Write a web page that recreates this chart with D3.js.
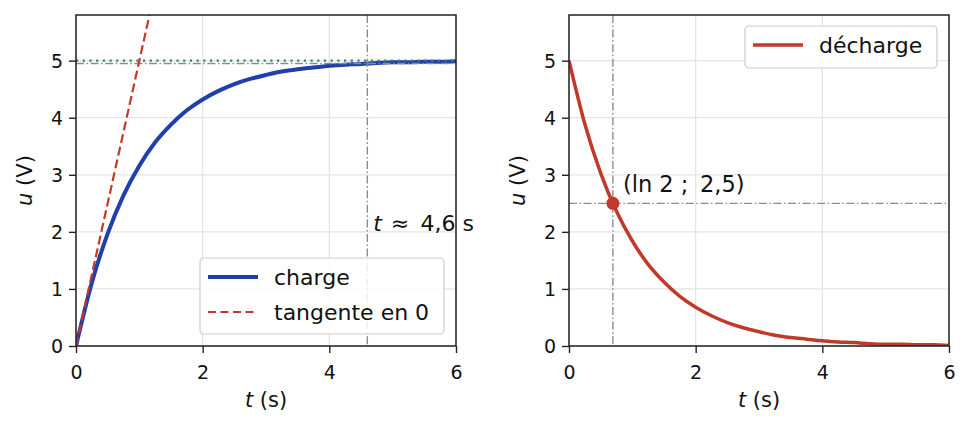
<!DOCTYPE html>
<html>
<head>
<meta charset="utf-8">
<title>Charge / décharge</title>
<script src="https://d3js.org/d3.v7.min.js"></script>
<style>
  body { margin: 0; background: #fff; }
  svg text { font-family: "DejaVu Sans", sans-serif; fill: #111; }
  .tick text { font-size: 19px; }
  .grid line { stroke: #e4e4e4; stroke-width: 1.3; }
</style>
</head>
<body>
<script>
// valeurs
var times = [0, 0.25, 0.5, 0.75, 1, 1.25, 1.5, 1.75, 2, 2.25, 2.5, 2.75, 3,
             3.25, 3.5, 3.75, 4, 4.25, 4.5, 4.75, 5, 5.25, 5.5, 5.75, 6];
var chargeU = [0, 1.11, 1.97, 2.64, 3.16, 3.57, 3.88, 4.13, 4.32, 4.47, 4.59, 4.68, 4.75,
               4.81, 4.85, 4.88, 4.91, 4.93, 4.94, 4.96, 4.97, 4.97, 4.98, 4.98, 4.99];
var dechargeU = [5, 3.89, 3.03, 2.36, 1.84, 1.43, 1.12, 0.87, 0.68, 0.53, 0.41, 0.32, 0.25,
                 0.19, 0.15, 0.12, 0.09, 0.07, 0.06, 0.04, 0.03, 0.03, 0.02, 0.02, 0.01];
var tangentT = [0, 1.2];
var tangentU = [0, 6];
var asymptote = 5;
var level99 = 4.95;
var t99 = 4.6;
var halfPoint = [0.693, 2.5];
var xTicks = [0, 2, 4, 6];
var yTicks = [0, 1, 2, 3, 4, 5];

var blue = "#1f3fad", red = "#c0392b", green = "#2e8b57", gray = "#8c8c8c";

var svg = d3.select("body").append("svg")
  .attr("width", 970).attr("height", 430);

function panel(id, left) {
  var w = 380, h = 331, top = 15;
  var x = d3.scaleLinear().domain([0, 6]).range([0, w]);
  var y = d3.scaleLinear().domain([0, 5.8]).range([h, 0]);
  var g = svg.append("g").attr("transform", "translate(" + left + "," + top + ")");

  g.append("clipPath").attr("id", id)
    .append("rect").attr("width", w).attr("height", h);

  // grille
  var grid = g.append("g").attr("class", "grid");
  grid.selectAll(".gx").data(xTicks).enter().append("line")
    .attr("x1", d => x(d)).attr("x2", d => x(d)).attr("y1", 0).attr("y2", h);
  grid.selectAll(".gy").data(yTicks).enter().append("line")
    .attr("y1", d => y(d)).attr("y2", d => y(d)).attr("x1", 0).attr("x2", w);

  var plot = g.append("g").attr("clip-path", "url(#" + id + ")");

  // axes
  var xAxis = d3.axisBottom(x).tickValues(xTicks).tickSize(7).tickPadding(6)
    .tickFormat(d3.format("d"));
  var yAxis = d3.axisLeft(y).tickValues(yTicks).tickSize(7).tickPadding(6)
    .tickFormat(d3.format("d"));
  var ax = g.append("g").attr("transform", "translate(0," + h + ")").call(xAxis);
  var ay = g.append("g").call(yAxis);
  [ax, ay].forEach(function (a) {
    a.select(".domain").remove();
    a.selectAll(".tick line").attr("stroke", "#222").attr("stroke-width", 1.4);
  });
  ax.selectAll(".tick text").attr("dy", "1.05em");
  ay.selectAll(".tick text").attr("dy", "0.36em");

  g.append("rect").attr("width", w).attr("height", h)
    .attr("fill", "none").attr("stroke", "#222").attr("stroke-width", 1.5);

  // titres d'axes
  var xl = g.append("text").attr("x", w / 2).attr("y", h + 61)
    .attr("text-anchor", "middle").style("font-size", "21px");
  xl.append("tspan").style("font-style", "italic").text("t");
  xl.append("tspan").text(" (s)");
  var yl = g.append("text")
    .attr("transform", "translate(-44," + (h / 2) + ") rotate(-90)")
    .attr("text-anchor", "middle").style("font-size", "21px");
  yl.append("tspan").style("font-style", "italic").text("u");
  yl.append("tspan").text(" (V)");

  return { g: g, plot: plot, x: x, y: y, w: w, h: h };
}

function legend(g, x0, y0, bw, items) {
  var lg = g.append("g").attr("transform", "translate(" + x0 + "," + y0 + ")");
  lg.append("rect").attr("width", bw).attr("height", 8 + items.length * 34)
    .attr("rx", 4).attr("fill", "white").attr("fill-opacity", 0.85)
    .attr("stroke", "#cccccc").attr("stroke-width", 1.2);
  items.forEach(function (it, i) {
    var yy = 19 + i * 35;
    lg.append("line").attr("x1", 8).attr("x2", 58).attr("y1", yy).attr("y2", yy)
      .attr("stroke", it.color).attr("stroke-width", it.width)
      .attr("stroke-dasharray", it.dash || null);
    lg.append("text").attr("x", 74).attr("y", yy + 7.5)
      .style("font-size", "22px").text(it.label);
  });
}

var line = function (p, xs, ys) {
  return d3.line().x(d => p.x(d)).y((d, i) => p.y(ys[i]))
    .curve(d3.curveMonotoneX)(xs);
};

// --- charge ---
var A = panel("clipA", 76);
A.plot.append("path").attr("d", line(A, times, chargeU))
  .attr("fill", "none").attr("stroke", blue).attr("stroke-width", 4);
A.plot.append("line").attr("x1", 0).attr("x2", A.w)
  .attr("y1", A.y(level99)).attr("y2", A.y(level99))
  .attr("stroke", gray).attr("stroke-width", 1.4).attr("stroke-dasharray", "8,2.5,1.6,2.5");
A.plot.append("line").attr("x1", 0).attr("x2", A.w)
  .attr("y1", A.y(asymptote)).attr("y2", A.y(asymptote))
  .attr("stroke", green).attr("stroke-width", 2.2).attr("stroke-dasharray", "2.2,4.5");
A.plot.append("path").attr("d", line(A, tangentT, tangentU))
  .attr("fill", "none").attr("stroke", red).attr("stroke-width", 2.2)
  .attr("stroke-dasharray", "9,4");
A.plot.append("line").attr("x1", A.x(t99)).attr("x2", A.x(t99))
  .attr("y1", 0).attr("y2", A.h)
  .attr("stroke", gray).attr("stroke-width", 1.4).attr("stroke-dasharray", "8,2.5,1.6,2.5");
var ta = A.g.append("text").attr("x", A.x(t99) + 6).attr("y", A.y(2) - 1)
  .style("font-size", "22px");
ta.append("tspan").style("font-style", "italic").text("t");
ta.append("tspan").text("\u2009\u2009\u2248\u2009 4,6 s");
legend(A.g, 124, 243, 244, [
  { label: "charge", color: blue, width: 4 },
  { label: "tangente en 0", color: red, width: 2.2, dash: "8,4.5" }
]);

// --- décharge ---
var B = panel("clipB", 569);
B.plot.append("line").attr("x1", B.x(halfPoint[0])).attr("x2", B.x(halfPoint[0]))
  .attr("y1", 0).attr("y2", B.h)
  .attr("stroke", gray).attr("stroke-width", 1.4).attr("stroke-dasharray", "8,2.5,1.6,2.5");
B.plot.append("line").attr("x1", 0).attr("x2", B.w)
  .attr("y1", B.y(halfPoint[1])).attr("y2", B.y(halfPoint[1]))
  .attr("stroke", gray).attr("stroke-width", 1.4).attr("stroke-dasharray", "8,2.5,1.6,2.5");
B.plot.append("path").attr("d", line(B, times, dechargeU))
  .attr("fill", "none").attr("stroke", red).attr("stroke-width", 3.5);
B.g.append("circle").attr("cx", B.x(halfPoint[0])).attr("cy", B.y(halfPoint[1]))
  .attr("r", 6.5).attr("fill", red);
B.g.append("text").attr("x", B.x(halfPoint[0]) + 10).attr("y", B.y(halfPoint[1]) - 11)
  .style("font-size", "22.5px").text("(ln 2 ; \u20092,5)");
legend(B.g, 176, 11, 192, [
  { label: "décharge", color: red, width: 3.5 }
]);
</script>
</body>
</html>
